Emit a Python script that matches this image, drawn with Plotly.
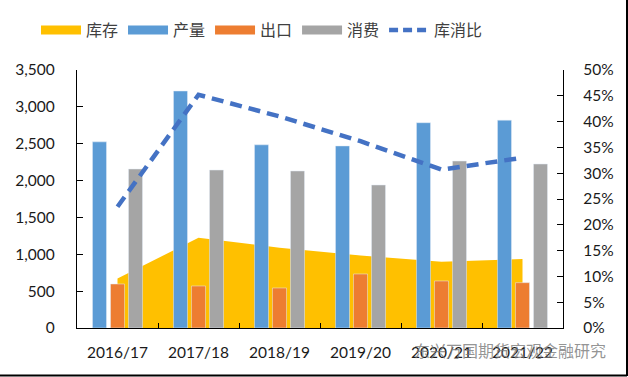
import plotly.graph_objects as go

categories = ["2016/17", "2017/18", "2018/19", "2019/20", "2020/21", "2021/22"]
stock = [670, 1225, 1090, 985, 900, 935]          # 库存
production = [2525, 3215, 2485, 2470, 2785, 2820]  # 产量
exports = [597, 570, 543, 733, 638, 615]           # 出口
consumption = [2157, 2143, 2130, 1940, 2265, 2225] # 消费
ratio = [0.235, 0.452, 0.41, 0.362, 0.307, 0.33]   # 库消比

left_ticks = [0, 500, 1000, 1500, 2000, 2500, 3000, 3500]
right_ticks = [0, 0.05, 0.10, 0.15, 0.20, 0.25, 0.30, 0.35, 0.40, 0.45, 0.50]

C_STOCK = "#FFC000"
C_PROD = "#5B9BD5"
C_EXP = "#ED7D31"
C_CONS = "#A5A5A5"
C_RATIO = "#4472C4"

W, H = 628, 377
L, R, T, B = 77, 65, 70, 49
pw, ph = W - L - R, H - T - B

def px_x(p):
    return (p - L) / pw

def px_y(p):
    return (H - B - p) / ph

fig = go.Figure()

# area (drawn first, lowest layer)
fig.add_trace(go.Scatter(x=categories, y=stock, mode="none", fill="tozeroy",
                         fillcolor=C_STOCK, yaxis="y", showlegend=False, hoverinfo="skip"))
# bars on overlay axis with same scale
fig.add_trace(go.Bar(x=categories, y=production, marker_color=C_PROD, yaxis="y2", showlegend=False))
fig.add_trace(go.Bar(x=categories, y=exports, marker_color=C_EXP, yaxis="y2", showlegend=False))
fig.add_trace(go.Bar(x=categories, y=consumption, marker_color=C_CONS, yaxis="y2", showlegend=False))
# ratio line on right axis
fig.add_trace(go.Scatter(x=categories, y=ratio, mode="lines", yaxis="y3", showlegend=False,
                         line=dict(color=C_RATIO, width=4.5, dash="12px,7px")))

# legend entries
for name, col in [("库存", C_STOCK), ("产量", C_PROD), ("出口", C_EXP), ("消费", C_CONS)]:
    fig.add_trace(go.Scatter(x=[None], y=[None], mode="lines", name=name,
                             line=dict(color=col, width=9)))
fig.add_trace(go.Scatter(x=[None], y=[None], mode="lines", name="库消比",
                         line=dict(color=C_RATIO, width=4.5, dash="9px,5px")))

axis_font = dict(family="Lato, Liberation Sans, sans-serif", size=15.5, color="#1a1a1a")

fig.update_layout(
    width=W, height=H,
    margin=dict(l=L, r=R, t=T, b=B, autoexpand=False),
    paper_bgcolor="white", plot_bgcolor="white",
    barmode="group", bargap=0.333, bargroupgap=0.22,
    font=dict(family="Noto Sans CJK SC, sans-serif", color="#404040"),
    xaxis=dict(type="category", showline=True, linecolor="black", linewidth=1.2,
               ticks="inside", ticklen=5, tickcolor="black", tickson="boundaries",
               tickfont=axis_font, showgrid=False, ticklabelstandoff=10, automargin=False),
    yaxis=dict(range=[0, 3500], tickvals=left_ticks, tickformat=",", showline=True,
               linecolor="black", linewidth=1.2, ticks="inside", ticklen=6, tickcolor="black",
               tickfont=axis_font, showgrid=False, zeroline=False, ticklabelstandoff=18,
               automargin=False),
    yaxis2=dict(range=[0, 3500], overlaying="y", visible=False, showgrid=False),
    yaxis3=dict(range=[0, 0.5], overlaying="y", side="right", tickvals=right_ticks,
                tickformat=".0%", showline=True, linecolor="black", linewidth=1.2,
                ticks="inside", ticklen=6, tickcolor="black", tickfont=axis_font,
                showgrid=False, zeroline=False, ticklabelstandoff=16, automargin=False),
    legend=dict(orientation="h", x=px_x(36), xanchor="left", y=px_y(30), yanchor="middle",
                font=dict(family="Noto Sans CJK SC, sans-serif", size=16, color="#404040"),
                itemwidth=40, tracegroupgap=0, bgcolor="rgba(0,0,0,0)"),
    showlegend=True,
)

# watermark
fig.add_annotation(text="东兴万国期货宏观金融研究", xref="paper", yref="paper",
                   x=px_x(608), y=px_y(350), xanchor="right", yanchor="middle",
                   showarrow=False, font=dict(family="Noto Sans CJK SC, sans-serif", size=16,
                                              color="rgba(120,120,120,0.8)"))

# frame on right and bottom edges
fig.add_shape(type="line", xref="paper", yref="paper", x0=px_x(0), x1=px_x(627),
              y0=px_y(375.5), y1=px_y(375.5), line=dict(color="black", width=2))
fig.add_shape(type="line", xref="paper", yref="paper", x0=px_x(627), x1=px_x(627),
              y0=px_y(0), y1=px_y(376), line=dict(color="black", width=2))

fig.write_html("out.html", config={"displayModeBar": False},
               post_script="document.body.style.margin='0px';")
